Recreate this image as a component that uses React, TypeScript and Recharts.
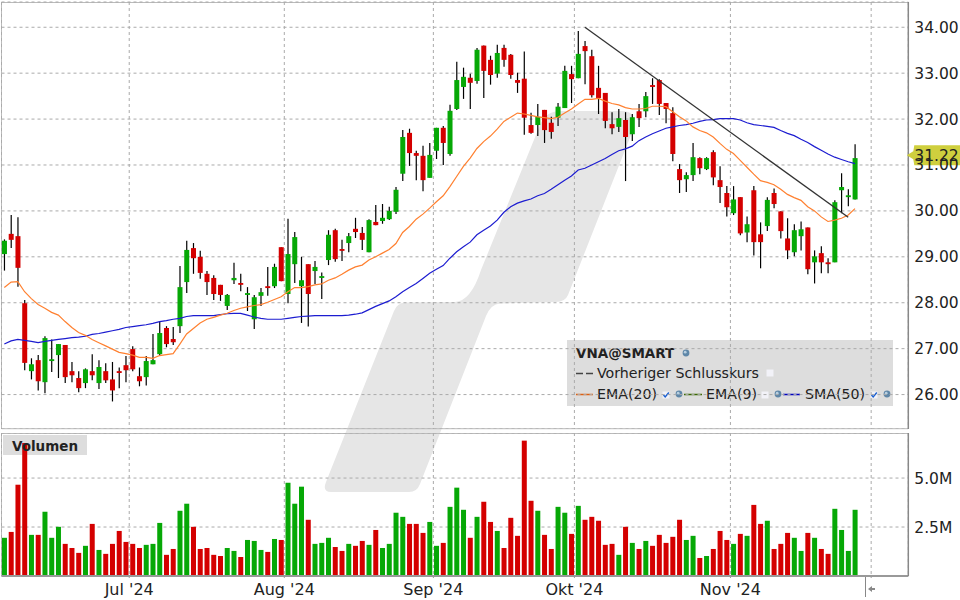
import {
  Bar,
  CartesianGrid,
  ComposedChart,
  Line,
  ReferenceDot,
  ReferenceLine,
  XAxis,
  YAxis,
} from "recharts";

const opens = [
  29.06, 29.50, 29.45, 27.99, 26.51, 26.75, 26.27, 26.73, 26.86, 27.08,
  26.51, 26.36, 26.25, 26.51, 26.25, 26.51, 26.33, 26.51, 26.64, 26.99,
  26.40, 26.38, 26.66, 26.88, 27.45, 27.21, 27.49, 28.45, 29.19, 29.00,
  28.63, 28.54, 28.39, 27.93, 28.49, 28.43, 28.17, 27.64, 28.15, 28.36,
  28.36, 29.21, 28.19, 28.84, 28.36, 28.84, 28.69, 28.54, 28.93, 29.58,
  29.17, 29.30, 29.61, 29.52, 29.10, 29.76, 29.78, 29.82, 29.98, 30.81,
  31.70, 31.26, 31.20, 30.72, 31.31, 31.81, 31.24, 32.22, 32.70, 32.90,
  32.83, 33.60, 33.29, 32.99, 33.55, 33.40, 32.85, 32.88, 31.87, 31.87,
  32.20, 31.92, 32.03, 32.24, 32.98, 32.89, 33.59, 33.37, 32.68, 32.57,
  31.89, 31.83, 31.98, 31.67, 32.17, 32.17, 32.74, 32.85, 32.35, 32.13,
  30.91, 30.69, 30.78, 31.15, 30.91, 31.28, 30.67, 30.39, 29.95, 30.30,
  29.53, 30.45, 29.49, 29.67, 30.39, 29.99, 29.40, 29.10, 29.45, 29.64,
  28.88, 29.08, 28.88, 28.88, 30.45, 30.30, 30.25,
];
const closes = [
  29.35, 29.37, 28.76, 26.69, 26.66, 26.29, 27.23, 26.77, 27.10, 26.38,
  26.42, 26.14, 26.55, 26.42, 26.60, 26.31, 26.09, 26.47, 26.53, 26.55,
  26.29, 26.73, 26.75, 27.34, 27.10, 27.14, 28.34, 29.15, 28.97, 28.65,
  28.45, 28.19, 28.17, 28.17, 28.54, 28.39, 28.21, 28.12, 28.23, 28.32,
  28.78, 28.47, 29.06, 29.43, 28.49, 28.19, 28.78, 28.58, 29.48, 28.95,
  29.13, 29.45, 29.54, 29.37, 29.80, 29.69, 29.85, 30.00, 30.46, 31.61,
  31.26, 31.20, 30.67, 31.22, 31.81, 31.48, 32.18, 32.85, 32.92, 32.79,
  33.51, 33.05, 32.96, 33.44, 33.29, 32.96, 32.79, 32.03, 31.70, 32.05,
  31.76, 31.72, 32.27, 33.05, 32.87, 33.42, 33.48, 32.52, 32.46, 31.96,
  31.80, 32.02, 31.61, 32.04, 32.02, 32.50, 32.70, 32.33, 32.22, 31.24,
  30.67, 30.78, 31.17, 30.93, 31.15, 30.73, 30.52, 30.08, 30.25, 29.51,
  29.71, 29.32, 29.32, 30.24, 30.15, 29.56, 29.14, 29.58, 29.60, 28.73,
  29.01, 28.88, 28.84, 30.19, 30.52, 30.34, 31.15,
];
const highs = [
  29.38, 29.91, 29.86, 28.06, 26.79, 26.86, 27.27, 27.20, 27.10, 27.08,
  26.71, 26.51, 26.57, 26.88, 26.75, 26.68, 26.71, 26.59, 26.84, 27.05,
  26.59, 26.84, 27.32, 27.60, 27.49, 27.47, 28.80, 29.35, 29.30, 29.13,
  28.69, 28.60, 28.39, 28.19, 28.87, 28.63, 28.34, 28.17, 28.32, 28.78,
  28.85, 29.21, 29.83, 29.54, 29.00, 28.84, 28.91, 28.66, 29.58, 29.61,
  29.37, 29.52, 29.85, 29.65, 29.82, 30.13, 30.15, 30.09, 30.52, 31.76,
  31.79, 31.31, 31.42, 31.48, 31.81, 31.85, 32.31, 33.25, 33.12, 32.99,
  33.55, 33.60, 33.38, 33.62, 33.62, 33.42, 33.01, 33.47, 32.14, 32.33,
  32.20, 32.05, 32.35, 33.16, 33.16, 33.92, 33.70, 33.51, 33.16, 32.57,
  32.15, 32.22, 32.15, 32.11, 32.33, 32.59, 32.89, 32.87, 32.35, 32.26,
  31.02, 30.84, 31.48, 31.17, 31.17, 31.32, 30.97, 30.54, 30.54, 30.30,
  29.88, 30.54, 29.75, 30.30, 30.49, 29.99, 29.84, 29.71, 29.77, 29.64,
  29.14, 29.23, 28.97, 30.23, 30.82, 30.47, 31.45,
];
const lows = [
  28.70, 29.19, 28.35, 26.53, 26.33, 26.09, 26.03, 26.49, 26.36, 26.25,
  26.27, 26.05, 26.14, 26.31, 26.12, 26.25, 25.85, 26.14, 26.27, 26.51,
  26.18, 26.20, 26.66, 26.84, 27.03, 27.08, 27.34, 28.21, 28.63, 28.52,
  28.17, 28.06, 28.04, 27.84, 28.41, 28.25, 27.82, 27.43, 27.93, 28.15,
  28.32, 28.47, 27.99, 28.43, 27.56, 27.48, 28.41, 28.08, 28.82, 28.89,
  28.91, 29.10, 29.41, 29.15, 29.10, 29.69, 29.72, 29.80, 29.93, 30.65,
  30.98, 30.67, 30.43, 30.72, 31.13, 31.00, 31.20, 32.20, 32.44, 32.22,
  32.77, 32.46, 32.75, 32.90, 33.14, 32.88, 32.57, 31.66, 31.68, 31.63,
  31.48, 31.57, 31.85, 32.24, 32.35, 32.89, 32.76, 32.47, 32.11, 31.80,
  31.67, 31.72, 30.65, 31.52, 31.83, 32.04, 32.33, 32.09, 31.91, 31.08,
  30.39, 30.41, 30.65, 30.80, 30.89, 30.56, 30.17, 29.88, 29.91, 29.47,
  29.32, 29.03, 28.75, 29.56, 30.06, 29.40, 28.95, 29.01, 29.14, 28.62,
  28.42, 28.64, 28.64, 28.88, 29.95, 30.10, 30.25,
];
const ema20 = [
  28.33, 28.45, 28.46, 28.24, 28.09, 27.96, 27.88, 27.79, 27.73, 27.59,
  27.46, 27.35, 27.29, 27.20, 27.13, 27.06, 26.99, 26.92, 26.89, 26.86,
  26.81, 26.81, 26.79, 26.85, 26.87, 26.89, 27.10, 27.32, 27.44, 27.56,
  27.64, 27.68, 27.73, 27.77, 27.83, 27.88, 27.91, 27.94, 27.96, 28.01,
  28.07, 28.13, 28.24, 28.33, 28.33, 28.35, 28.39, 28.41, 28.49, 28.54,
  28.62, 28.71, 28.78, 28.82, 28.93, 29.00, 29.08, 29.16, 29.29, 29.53,
  29.66, 29.82, 29.93, 30.06, 30.20, 30.33, 30.53, 30.75, 30.97, 31.15,
  31.36, 31.51, 31.63, 31.78, 31.95, 32.04, 32.13, 32.11, 32.08, 32.05,
  32.03, 32.01, 32.04, 32.13, 32.22, 32.33, 32.43, 32.43, 32.45, 32.39,
  32.34, 32.31, 32.25, 32.22, 32.22, 32.23, 32.28, 32.28, 32.27, 32.16,
  32.05, 31.96, 31.83, 31.75, 31.70, 31.61, 31.47, 31.34, 31.25, 31.10,
  30.95, 30.80, 30.66, 30.62, 30.57, 30.47, 30.36, 30.29, 30.23, 30.09,
  30.00, 29.87, 29.77, 29.80, 29.84, 29.91, 30.05,
];
const sma50 = [
  27.10, 27.17, 27.20, 27.18, 27.16, 27.13, 27.16, 27.18, 27.20, 27.22,
  27.24, 27.25, 27.27, 27.31, 27.33, 27.36, 27.39, 27.42, 27.46, 27.48,
  27.50, 27.52, 27.55, 27.59, 27.61, 27.64, 27.66, 27.70, 27.72, 27.72,
  27.72, 27.72, 27.74, 27.76, 27.77, 27.77, 27.73, 27.69, 27.66, 27.64,
  27.64, 27.64, 27.66, 27.68, 27.70, 27.71, 27.72, 27.72, 27.72, 27.72,
  27.72, 27.73, 27.75, 27.78, 27.85, 27.92, 27.98, 28.04, 28.13, 28.24,
  28.33, 28.42, 28.53, 28.64, 28.73, 28.81, 28.97, 29.11, 29.22, 29.32,
  29.48, 29.58, 29.67, 29.80, 29.97, 30.09, 30.17, 30.22, 30.26, 30.33,
  30.38, 30.47, 30.57, 30.67, 30.76, 30.89, 30.93, 31.00, 31.07, 31.14,
  31.23, 31.31, 31.35, 31.41, 31.53, 31.61, 31.68, 31.74, 31.80, 31.83,
  31.86, 31.88, 31.91, 31.95, 31.98, 31.99, 32.01, 32.01, 32.01, 31.98,
  31.92, 31.88, 31.86, 31.84, 31.82, 31.75, 31.69, 31.64, 31.56, 31.49,
  31.40, 31.32, 31.24, 31.17, 31.12, 31.07, 31.03,
];
// volume in millions
const volumes = [
  1.95, 2.25, 4.66, 6.79, 2.10, 2.10, 3.28, 1.95, 2.51, 1.64,
  1.43, 1.18, 1.54, 2.66, 1.33, 1.13, 1.64, 2.30, 1.74, 1.64,
  1.43, 1.59, 1.64, 2.71, 1.08, 1.38, 3.33, 3.69, 2.51, 1.38,
  1.43, 1.08, 1.02, 1.43, 1.28, 0.97, 1.84, 1.79, 1.33, 1.23,
  1.89, 1.84, 4.76, 3.69, 4.56, 2.87, 1.64, 1.69, 1.95, 1.48,
  1.28, 1.64, 1.54, 1.79, 1.59, 2.35, 1.43, 1.64, 3.23, 3.02,
  2.66, 2.66, 2.20, 2.76, 1.54, 1.69, 3.53, 4.51, 3.38, 1.95,
  3.02, 3.79, 2.76, 2.30, 1.43, 2.97, 2.05, 6.91, 3.84, 3.33,
  2.10, 1.38, 3.53, 3.23, 2.15, 3.58, 2.87, 3.02, 2.82, 1.59,
  1.64, 1.08, 2.51, 1.69, 1.38, 1.79, 1.54, 2.10, 1.69, 2.00,
  2.87, 1.84, 2.05, 0.92, 1.02, 1.38, 2.30, 1.84, 1.64, 2.15,
  2.05, 3.63, 2.66, 2.82, 1.38, 1.64, 2.20, 1.95, 1.28, 2.20,
  1.95, 1.38, 1.13, 3.43, 2.35, 1.28, 3.38,
];

const monthTicks = [18.5, 41.47, 63.55, 84.44, 107.55, 128.4];
const monthLabels = ["Jul '24", "Aug '24", "Sep '24", "Okt '24", "Nov '24", ""];
const priceTicks = [26, 27, 28, 29, 30, 31, 32, 33, 34];
const volumeTicks = [2.5, 5];
const trendX = [86, 125];
const trendY = [34.0, 29.86];
const lastPrice = 31.21;
const lastLabel = "31.22";

const rows = opens.map((open, i) => ({
  i,
  open,
  close: closes[i],
  high: highs[i],
  low: lows[i],
  ema: ema20[i],
  sma: sma50[i],
  volume: volumes[i],
}));

const FONT = "'DejaVu Sans', sans-serif";
const UP = "#06a806";
const DOWN = "#d40000";
const GRID = "#aaaaaa";
const xDomain: [number, number] = [-0.42, 133.9];

function Candle(props: any) {
  const { x, y, width, height, payload } = props;
  const perUnit = height / (payload.high - payload.low);
  const bodyTop = y + (payload.high - Math.max(payload.open, payload.close)) * perUnit;
  const bodyH = Math.max(1.5, Math.abs(payload.open - payload.close) * perUnit);
  const cx = x + width / 2;
  return (
    <g>
      <line x1={cx} x2={cx} y1={y} y2={y + height} stroke="#000" strokeWidth={1.2} />
      <rect
        x={x}
        y={bodyTop}
        width={width}
        height={bodyH}
        fill={payload.close >= payload.open ? UP : DOWN}
      />
    </g>
  );
}

function VolumeBar(props: any) {
  const { x, y, width, height, payload } = props;
  return (
    <rect
      x={x}
      y={y}
      width={width}
      height={height}
      fill={payload.close >= payload.open ? UP : DOWN}
    />
  );
}

function PriceTag(props: any) {
  const { cx, cy } = props;
  return (
    <g>
      <path
        d={`M${cx - 1.5} ${cy} L${cx + 5} ${cy - 4} L${cx + 6} ${cy - 10} L${cx + 52} ${cy - 10} L${cx + 52} ${cy + 10} L${cx + 6} ${cy + 10} L${cx + 5} ${cy + 4} Z`}
        fill="#cfcf3e"
      />
      <text x={cx + 6} y={cy + 6} fontSize={15.5} fontFamily={FONT} fill="#222">
        {lastLabel}
      </text>
    </g>
  );
}

function Globe({ x, y }: { x: number; y: number }) {
  return (
    <g>
      <circle cx={x} cy={y} r={3.4} fill="#5f87a8" />
      <circle cx={x - 0.8} cy={y - 0.8} r={1.4} fill="#b8cfe0" />
    </g>
  );
}

function Box({ x, y, checked }: { x: number; y: number; checked?: boolean }) {
  return (
    <g>
      <rect x={x - 3.5} y={y - 3.5} width={7} height={7} fill="#f2f2f8" />
      {checked && (
        <path
          d={`M${x - 2.5} ${y} L${x - 0.8} ${y + 2} L${x + 2.8} ${y - 2.5}`}
          fill="none"
          stroke="#1a5fd0"
          strokeWidth={1.4}
        />
      )}
    </g>
  );
}

// logo, panel frames and legend sit behind the charts
function Backdrop() {
  const text = { fontFamily: FONT, fontSize: 14.2, fill: "#222" };
  return (
    <svg width={960} height={600} style={{ position: "absolute", left: 0, top: 0 }}>
      <path
        d="M331 492 L409 492 Q417 492 420 484 L486 316 Q491 304 500 303.5 L556 302 Q565 302 568 295 L631 135 Q640 111 622 111 L560 111 Q546 111 540 125 L481 270 Q471 301 455 302 L405 302.5 Q397 303 394 311 L326 482 Q322 492 331 492 Z"
        fill="#e6e6e6"
      />
      <path d="M908 2.5 L1.5 2.5 L1.5 428.7 L908 428.7" fill="none" stroke="#bbbbbb" strokeWidth={1} />
      <path d="M908 433.5 L1.5 433.5 L1.5 576" fill="none" stroke="#bbbbbb" strokeWidth={1} />
      <line x1={865.5} x2={865.5} y1={576} y2={597} stroke="#888888" />
      <path d="M868 589 L872 586 L872 588 L875 588 L875 590 L872 590 L872 592 Z" fill="#888888" />

      <rect x={3} y={435} width={84} height={20} fill="#dddddd" />

      <rect x={567} y={340} width={326} height={66} fill="#dddddd" />
      <text x={576} y={358} fontFamily={FONT} fontSize={13.5} fontWeight={700} fill="#222">
        VNA@SMART
      </text>
      <Globe x={686} y={353} />
      <line x1={576} x2={593} y1={373.5} y2={373.5} stroke="#444" strokeWidth={1.5} strokeDasharray="7 3" />
      <text x={597} y={378} {...text}>
        Vorheriger Schlusskurs
      </text>
      <Box x={770} y={373} />
      <line x1={576} x2={593} y1={394.5} y2={394.5} stroke="#e06010" strokeWidth={1.5} />
      <text x={597} y={399} {...text}>
        EMA(20)
      </text>
      <Box x={666} y={395} checked />
      <Globe x={679} y={394} />
      <line x1={684} x2={702} y1={394.5} y2={394.5} stroke="#3a6a00" strokeWidth={1.5} />
      <text x={706} y={399} {...text}>
        EMA(9)
      </text>
      <Box x={765} y={395} />
      <Globe x={778} y={394} />
      <line x1={783} x2={800} y1={394.5} y2={394.5} stroke="#0000c0" strokeWidth={1.5} />
      <text x={805} y={399} {...text}>
        SMA(50)
      </text>
      <Box x={874} y={395} checked />
      <Globe x={887} y={394} />
    </svg>
  );
}

export default function App() {
  const tick = { fontSize: 15.5, fontFamily: FONT, fill: "#222" };
  return (
    <div style={{ position: "absolute", left: 0, top: 0, width: 960, height: 600, background: "#fff", overflow: "hidden" }}>
      <Backdrop />
      <div style={{ position: "absolute", left: 0, top: 0 }}>
        <ComposedChart
          width={960}
          height={429}
          data={rows}
          margin={{ top: 2, right: 0, bottom: 0, left: 1.5 }}
        >
          <CartesianGrid stroke={GRID} strokeDasharray="3 3" />
          <XAxis
            dataKey="i"
            type="number"
            domain={xDomain}
            ticks={monthTicks}
            hide
            height={0}
          />
          <YAxis
            orientation="right"
            width={51.7}
            domain={[25.25, 34.55]}
            ticks={priceTicks}
            interval={0}
            tickFormatter={(v: number) => v.toFixed(2)}
            tick={tick}
            tickLine={false}
            axisLine={{ stroke: "#888888", strokeWidth: 1.5 }}
            tickSize={6}
            tickMargin={0}
          />
          <Bar
            dataKey={(d: any) => [d.low, d.high]}
            barSize={5}
            shape={<Candle />}
            isAnimationActive={false}
          />
          <Line
            dataKey="sma"
            stroke="#1c1cd0"
            strokeWidth={1.2}
            dot={false}
            activeDot={false}
            isAnimationActive={false}
          />
          <Line
            dataKey="ema"
            stroke="#ff8030"
            strokeWidth={1.2}
            dot={false}
            activeDot={false}
            isAnimationActive={false}
          />
          <ReferenceLine
            segment={[
              { x: trendX[0], y: trendY[0] },
              { x: trendX[1], y: trendY[1] },
            ]}
            stroke="#333333"
            strokeWidth={1.3}
          />
          <ReferenceDot
            x={xDomain[1]}
            y={lastPrice}
            ifOverflow="visible"
            shape={<PriceTag />}
          />
        </ComposedChart>
      </div>
      <div style={{ position: "absolute", left: 0, top: 433 }}>
        <ComposedChart
          width={960}
          height={167}
          data={rows}
          margin={{ top: 0, right: 0, bottom: 0, left: 1.5 }}
        >
          <CartesianGrid stroke={GRID} strokeDasharray="3 3" />
          <XAxis
            dataKey="i"
            type="number"
            domain={xDomain}
            ticks={monthTicks}
            interval={0}
            height={24}
            tickFormatter={(v: number) => monthLabels[monthTicks.indexOf(v)]}
            tick={{ ...tick, fontSize: 16 }}
            tickSize={2}
            tickMargin={6}
            stroke="#999999"
            axisLine={{ stroke: "#999999", strokeWidth: 2 }}
          />
          <YAxis
            orientation="right"
            width={51.7}
            domain={[0, 7.3]}
            ticks={volumeTicks}
            interval={0}
            tickFormatter={(v: number) => `${v.toFixed(1)}M`}
            tick={tick}
            tickLine={false}
            axisLine={{ stroke: "#888888", strokeWidth: 1.5 }}
            tickSize={6}
            tickMargin={0}
          />
          <Bar
            dataKey="volume"
            barSize={5}
            shape={<VolumeBar />}
            isAnimationActive={false}
          />
        </ComposedChart>
      </div>
      <svg width={90} height={24} style={{ position: "absolute", left: 0, top: 433, pointerEvents: "none" }}>
        <text x={12} y={18} fontFamily={FONT} fontSize={13.5} fontWeight={700} fill="#222">
          Volumen
        </text>
      </svg>
    </div>
  );
}
